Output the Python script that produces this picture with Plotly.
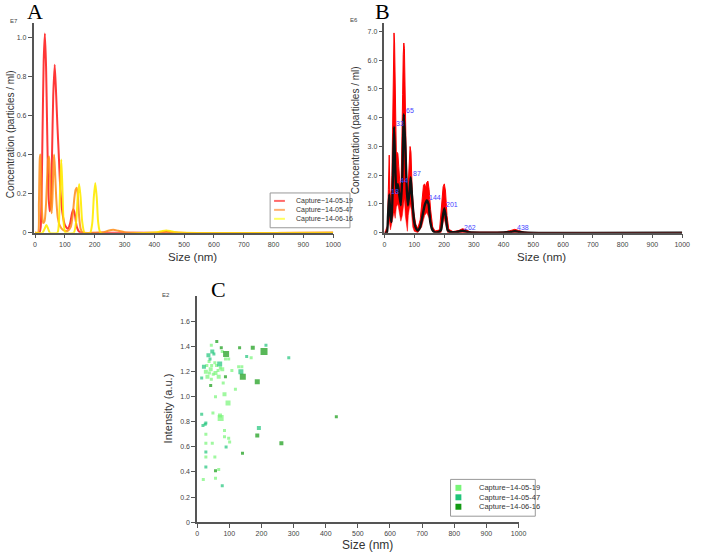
import plotly.graph_objects as go

W, H = 702, 556

# ---------------- Panel A data (units of 1E7 particles/ml) ----------------
a_red_x = [0, 15, 19, 22, 25, 29, 33, 37, 41, 45, 49, 53, 57, 61, 66, 71, 75, 79, 85, 92, 100, 110, 118, 124, 129, 134, 140, 148, 160, 250, 400, 430, 440, 455, 480, 1000]
a_red_y = [0, 0, 0.03, 0.2, 0.5, 0.88, 1.02, 0.85, 0.5, 0.2, 0.11, 0.15, 0.4, 0.7, 0.86, 0.7, 0.55, 0.42, 0.22, 0.1, 0.04, 0.02, 0.05, 0.1, 0.12, 0.09, 0.03, 0.005, 0, 0, 0, 0.004, 0.005, 0.003, 0, 0]

a_orange_x = [0, 10, 13, 16, 18, 20, 23, 27, 32, 37, 41, 44, 47, 50, 53, 56, 59, 62, 64, 67, 71, 76, 82, 90, 100, 110, 120, 127, 132, 136, 140, 144, 148, 153, 160, 200, 230, 245, 262, 280, 300, 330, 1000]
a_orange_y = [0, 0, 0.15, 0.38, 0.40, 0.3, 0.12, 0.05, 0.06, 0.15, 0.3, 0.38, 0.39, 0.3, 0.15, 0.1, 0.2, 0.35, 0.40, 0.32, 0.18, 0.08, 0.04, 0.02, 0.01, 0.01, 0.03, 0.1, 0.18, 0.22, 0.23, 0.18, 0.08, 0.02, 0, 0, 0.002, 0.01, 0.015, 0.01, 0.003, 0, 0]

a_yellow_x = [0, 25, 32, 38, 44, 50, 75, 80, 84, 88, 92, 96, 102, 130, 138, 143, 148, 153, 158, 166, 185, 192, 197, 202, 207, 212, 220, 380, 410, 425, 440, 455, 470, 500, 1000]
a_yellow_y = [0, 0, 0.02, 0.04, 0.02, 0, 0, 0.05, 0.22, 0.375, 0.22, 0.05, 0, 0, 0.06, 0.18, 0.25, 0.18, 0.06, 0, 0, 0.05, 0.18, 0.255, 0.18, 0.05, 0, 0, 0.003, 0.008, 0.012, 0.008, 0.003, 0, 0]

series_names = ["Capture~14-05-19", "Capture~14-05-47", "Capture~14-06-16"]

# ---------------- Panel B data (units of 1E6 particles/ml) ----------------
b_mean_x = [0, 8, 12, 16, 20, 24, 28, 32, 36, 40, 45, 50, 55, 60, 65, 70, 75, 79, 84, 88, 93, 100, 106, 112, 120, 128, 135, 142, 148, 154, 161, 168, 180, 190, 195, 201, 207, 212, 220, 240, 262, 285, 320, 400, 425, 438, 452, 480, 1000]
b_mean_y = [0, 0, 0.6, 1.33, 0.6, 0.37, 1.8, 3.69, 2.3, 1.41, 1.69, 1.3, 0.95, 2.0, 4.12, 3.0, 1.5, 0.95, 1.4, 1.93, 1.2, 0.37, 0.15, 0.08, 0.2, 0.6, 0.95, 1.12, 1.0, 0.37, 0.1, 0.02, 0.02, 0.1, 0.5, 0.85, 0.5, 0.1, 0.03, 0.02, 0.07, 0.02, 0.005, 0.01, 0.03, 0.05, 0.03, 0.005, 0]

b_upper_x = [0, 10, 13, 16, 18, 22, 25, 28, 30, 32, 34, 36, 38, 40, 42, 45, 48, 52, 56, 59, 61, 63, 65, 67, 69, 71, 74, 78, 82, 86, 89, 93, 98, 105, 112, 120, 126, 131, 135, 139, 142, 146, 150, 155, 162, 170, 185, 192, 197, 201, 205, 210, 216, 230, 250, 262, 275, 290, 350, 400, 425, 438, 450, 470, 500, 1000]
b_upper_y = [0, 0, 1.5, 2.7, 1.5, 1.1, 2.0, 4.2, 5.8, 6.95, 6.6, 5.2, 3.6, 2.6, 2.8, 2.75, 2.3, 1.7, 1.7, 3.0, 4.8, 6.2, 6.6, 6.4, 5.2, 3.8, 2.0, 1.3, 2.0, 3.0, 2.8, 1.5, 0.75, 0.3, 0.15, 0.45, 1.1, 1.65, 1.7, 1.55, 1.75, 1.8, 1.5, 0.8, 0.2, 0.06, 0.1, 0.9, 1.6, 1.7, 1.45, 0.6, 0.12, 0.04, 0.08, 0.14, 0.1, 0.02, 0.01, 0.02, 0.08, 0.12, 0.08, 0.02, 0.0, 0]

b_lower_x = [0, 14, 16, 20, 24, 28, 32, 36, 40, 45, 50, 55, 60, 64, 67, 70, 74, 77, 80, 86, 90, 95, 100, 112, 125, 135, 142, 150, 158, 168, 190, 195, 200, 205, 212, 1000]
b_lower_y = [0, 0.3, 0.4, 0.1, 0.3, 0.6, 0.7, 0.5, 0.9, 1.0, 0.6, 0.4, 0.6, 1.0, 1.2, 0.6, 0.2, 0.05, 0.6, 1.0, 0.8, 0.2, 0.05, 0, 0.2, 0.6, 0.7, 0.5, 0.1, 0, 0, 0.3, 0.5, 0.3, 0, 0]

b_peak_labels = ["18", "33", "44", "65", "87", "144", "201", "262", "438"]
b_peak_x = [16, 32, 45, 65, 88, 142, 201, 262, 438]
b_peak_y = [1.33, 3.69, 1.69, 4.12, 1.93, 1.12, 0.85, 0.07, 0.05]

# ---------------- Panel C data (intensity in 1E2 a.u.) ----------------
c1_x = [44, 78, 88, 98, 37, 78, 139, 129, 108, 27, 42, 57, 32, 44, 67, 81, 119, 85, 57, 96, 49, 71, 73, 85, 98, 101, 27, 27, 47, 27, 55, 67, 19, 57, 85, 168, 60, 50, 65, 45, 30, 38, 55, 72]
c1_y = [1.41, 1.36, 1.30, 1.30, 1.28, 1.22, 1.24, 1.24, 1.21, 1.20, 1.22, 1.19, 1.16, 1.14, 1.16, 1.11, 1.06, 1.02, 1.00, 0.95, 0.87, 0.85, 0.83, 0.68, 0.67, 0.64, 0.70, 0.63, 0.63, 0.52, 0.52, 0.42, 0.34, 0.35, 0.73, 1.31, 1.25, 1.18, 1.21, 1.25, 1.25, 1.19, 1.27, 1.23]
c1_s = [3, 3, 3, 3, 3, 4, 3, 3, 3, 4, 4, 4, 4, 3, 4, 3, 3, 4, 3, 5, 3, 4, 6, 3, 3, 3, 3, 3, 3, 3, 3, 3, 3, 3, 3, 3, 3, 3, 3, 3, 3, 3, 3, 3]

c2_x = [214, 285, 47, 35, 21, 70, 136, 14, 14, 25, 18, 192, 90, 27, 27, 78, 154, 52, 27, 40]
c2_y = [1.41, 1.31, 1.36, 1.33, 1.24, 1.26, 1.20, 1.15, 0.86, 0.78, 0.77, 0.75, 0.60, 0.56, 0.44, 0.29, 1.32, 1.34, 0.79, 1.30]
c2_s = [3, 3, 4, 4, 4, 5, 5, 3, 3, 3, 3, 4, 3, 3, 3, 3, 3, 3, 3, 3]

c3_x = [61, 75, 90, 132, 173, 208, 142, 187, 88, 42, 187, 262, 141, 57, 433]
c3_y = [1.44, 1.39, 1.34, 1.39, 1.39, 1.36, 1.16, 1.12, 1.16, 1.09, 0.69, 0.63, 0.55, 0.41, 0.84]
c3_s = [3, 3, 6, 3, 4, 7, 6, 5, 3, 3, 4, 4, 3, 3, 3]

x_ticks = [0, 100, 200, 300, 400, 500, 600, 700, 800, 900, 1000]
a_yticks = [0, 0.2, 0.4, 0.6, 0.8, 1.0]
a_yticktext = ["0", "0.2", "0.4", "0.6", "0.8", "1.0"]
b_yticks = [0, 1, 2, 3, 4, 5, 6, 7]
b_yticktext = ["0", "1.0", "2.0", "3.0", "4.0", "5.0", "6.0", "7.0"]
c_yticks = [0, 0.2, 0.4, 0.6, 0.8, 1.0, 1.2, 1.4, 1.6]
c_yticktext = ["0", "0.2", "0.4", "0.6", "0.8", "1.0", "1.2", "1.4", "1.6"]

a_colors = ["rgba(255,20,20,0.85)", "rgba(255,140,20,0.85)", "rgba(255,235,0,0.9)"]
a_legend_colors = ["#ff6a6a", "#ffb070", "#ffff60"]
c_colors = ["#78f578", "#20c47a", "#139a13"]

FONT = "Liberation Sans, Arial"


def px(x):
    return x / W


def py(y):
    return 1 - y / H


fig = go.Figure()

# Panel A
for xs, ys, name, col in [(a_red_x, a_red_y, series_names[0], a_colors[0]),
                          (a_orange_x, a_orange_y, series_names[1], a_colors[1]),
                          (a_yellow_x, a_yellow_y, series_names[2], a_colors[2])]:
    fig.add_trace(go.Scatter(x=xs, y=ys, mode="lines", name=name, showlegend=False,
                             line=dict(color=col, width=2, shape="spline", smoothing=0.6),
                             xaxis="x", yaxis="y"))

# Panel B
fig.add_trace(go.Scatter(x=b_lower_x, y=b_lower_y, mode="lines", line=dict(color="red", width=0.5),
                         showlegend=False, xaxis="x2", yaxis="y2"))
fig.add_trace(go.Scatter(x=b_upper_x, y=b_upper_y, mode="lines", line=dict(color="red", width=1),
                         fill="tonexty", fillcolor="rgba(255,0,0,1)", showlegend=False,
                         xaxis="x2", yaxis="y2"))
fig.add_trace(go.Scatter(x=b_mean_x, y=b_mean_y, mode="lines", line=dict(color="#111", width=2.4, shape="spline", smoothing=0.5),
                         showlegend=False, xaxis="x2", yaxis="y2"))

# Panel C
for xs, ys, ss, name, col in [(c1_x, c1_y, c1_s, series_names[0], c_colors[0]),
                              (c2_x, c2_y, c2_s, series_names[1], c_colors[1]),
                              (c3_x, c3_y, c3_s, series_names[2], c_colors[2])]:
    fig.add_trace(go.Scatter(x=xs, y=ys, mode="markers", name=name, showlegend=False,
                             marker=dict(symbol="square", size=ss, color=col, line=dict(width=0)),
                             xaxis="x3", yaxis="y3"))

axis_common = dict(showline=True, linecolor="#555", linewidth=1.5, ticks="outside", ticklen=4,
                   tickcolor="#555", tickwidth=1, showgrid=False, zeroline=False,
                   tickfont=dict(family=FONT, size=7, color="#444"))

fig.update_layout(
    width=W, height=H, margin=dict(l=0, r=0, t=0, b=0),
    paper_bgcolor="white", plot_bgcolor="rgba(0,0,0,0)", showlegend=False,
    xaxis=dict(domain=[px(32), px(336)], range=[-5, 1000], tickvals=x_ticks, anchor="y", **axis_common),
    yaxis=dict(domain=[py(234), py(23)], range=[0, 1.074], tickvals=a_yticks, ticktext=a_yticktext, anchor="x", **axis_common),
    xaxis2=dict(domain=[px(388), px(690)], range=[0, 1000], tickvals=x_ticks, anchor="y2", **axis_common),
    yaxis2=dict(domain=[py(234), py(23)], range=[0, 7.3], tickvals=b_yticks, ticktext=b_yticktext, anchor="x2", **axis_common),
    xaxis3=dict(domain=[px(198), px(524)], range=[0, 1000], tickvals=x_ticks, anchor="y3", **axis_common),
    yaxis3=dict(domain=[py(525), py(298)], range=[0, 1.8], tickvals=c_yticks, ticktext=c_yticktext, anchor="x3", **axis_common),
)

ann = []
shapes = []
# panel letters
for t, x, y in [("A", 33, 12), ("B", 386, 12), ("C", 220, 291)]:
    ann.append(dict(text=t, x=px(x), y=py(y), xref="paper", yref="paper", showarrow=False,
                    xanchor="center", yanchor="middle", font=dict(family="Liberation Serif, Times New Roman", size=22, color="black")))
# exponent labels
for t, x, y in [("E7", 12, 21), ("E6", 357, 20), ("E2", 166, 297)]:
    ann.append(dict(text=t, x=px(x), y=py(y), xref="paper", yref="paper", showarrow=False,
                    xanchor="center", yanchor="middle", font=dict(family=FONT, size=6, color="#444")))
# axis titles
for t, x, y, ang, sz in [("Size (nm)", 193, 258, 0, 11.5), ("Size (nm)", 547, 258, 0, 11.5),
                          ("Size (nm)", 371, 548, 0, 12),
                          ("Concentration (particles / ml)", 8, 135, -90, 10),
                          ("Concentration (particles / ml)", 358, 131, -90, 10),
                          ("Intensity (a.u.)", 168, 411, -90, 11)]:
    ann.append(dict(text=t, x=px(x), y=py(y), xref="paper", yref="paper", showarrow=False, textangle=ang,
                    xanchor="center", yanchor="middle", font=dict(family=FONT, size=sz, color="#333")))
# peak labels in B
for t, x, y in zip(b_peak_labels, b_peak_x, b_peak_y):
    ann.append(dict(text=t, x=x, y=y, xref="x2", yref="y2", showarrow=False, xanchor="left", yanchor="bottom",
                    yshift=-2, font=dict(family=FONT, size=7, color="#4646ff")))

# legend A (box with line samples)
shapes.append(dict(type="rect", xref="paper", yref="paper", x0=px(272), x1=px(353), y0=py(229), y1=py(194),
                   line=dict(color="#999", width=1), fillcolor="white", layer="above"))
for i, (name, col) in enumerate(zip(series_names, a_legend_colors)):
    yy = 202 + i * 9
    shapes.append(dict(type="line", xref="paper", yref="paper", x0=px(276), x1=px(287), y0=py(yy), y1=py(yy),
                       line=dict(color=col, width=2), layer="above"))
    ann.append(dict(text=name, x=px(296), y=py(yy), xref="paper", yref="paper", showarrow=False,
                    xanchor="left", yanchor="middle", font=dict(family=FONT, size=7, color="#333")))

# legend C (box with square samples)
shapes.append(dict(type="rect", xref="paper", yref="paper", x0=px(455), x1=px(541), y0=py(519), y1=py(482),
                   line=dict(color="#999", width=1), fillcolor="white", layer="above"))
for i, (name, col) in enumerate(zip(series_names, c_colors)):
    yy = 490.5 + i * 9.5
    shapes.append(dict(type="rect", xref="paper", yref="paper", x0=px(460), x1=px(466), y0=py(yy + 3), y1=py(yy - 3),
                       line=dict(width=0), fillcolor=col, layer="above"))
    ann.append(dict(text=name, x=px(482), y=py(yy), xref="paper", yref="paper", showarrow=False,
                    xanchor="left", yanchor="middle", font=dict(family=FONT, size=7.5, color="#333")))

fig.update_layout(annotations=ann, shapes=shapes)

fig.write_html("out.html")
